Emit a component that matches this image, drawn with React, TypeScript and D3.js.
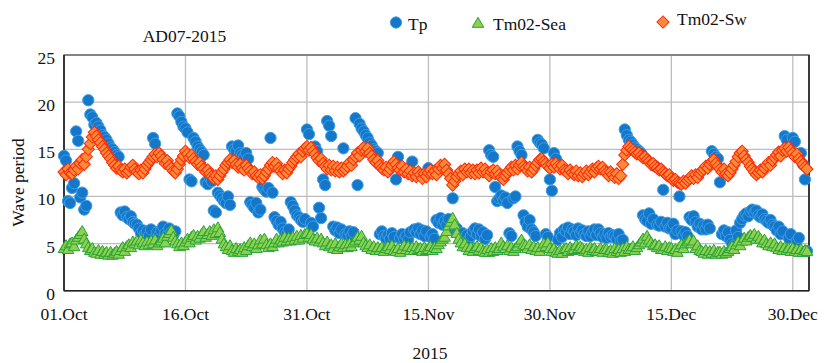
import React from "react";
import * as d3 from "d3";

// Series sampled every 6 h starting 01.Oct 2015 00:00 (UTC), 4 values per day
const startDate = new Date(Date.UTC(2015, 9, 1));
const endDate = new Date(Date.UTC(2016, 0, 1));
const stepHours = 6;

const tpValues = [
  14.3, 13.8, 9.5, 9.3, 10.9, 11.4, 16.9, 15.9, 9.9, 10.4, 8.6, 9.0, 20.2, 18.7, 18.4, 17.6,
  17.8, 17.4, 17.0, 16.5, 16.3, 16.0, 15.6, 15.2, 15.0, 14.7, 14.4, 14.2, 8.3, 8.0, 8.4, 7.8,
  7.6, 7.9, 7.3, 7.1, 7.0, 6.6, 6.1, 6.4, 6.0, 6.3, 5.8, 6.5, 16.2, 15.6, 6.2, 5.9,
  6.4, 6.8, 6.1, 5.9, 6.6, 6.2, 5.9, 6.3, 18.8, 18.5, 17.9, 17.4, 17.2, 16.8, 11.8, 11.6,
  16.2, 15.8, 15.3, 15.0, 14.7, 14.4, 11.5, 11.3, 12.0, 11.6, 8.5, 8.3, 10.4, 10.1, 9.8, 9.5,
  9.3, 10.0, 9.1, 15.3, 15.0, 14.8, 15.4, 14.6, 14.4, 14.2, 14.6, 14.0, 9.4, 9.1, 8.8, 9.3,
  8.3, 8.6, 11.0, 10.7, 10.5, 10.9, 16.2, 10.4, 7.8, 7.4, 7.0, 7.3, 6.6, 6.2, 6.0, 6.5,
  9.4, 9.0, 8.5, 8.0, 7.8, 7.5, 7.3, 7.6, 17.1, 16.6, 7.2, 6.8, 15.3, 14.8, 8.8, 7.7,
  11.8, 11.2, 18.0, 17.5, 16.4, 6.8, 6.4, 6.7, 6.1, 6.5, 15.1, 6.0, 5.9, 6.3, 5.8, 6.2,
  18.3, 11.2, 17.7, 17.2, 16.9, 16.5, 16.2, 15.7, 15.4, 15.0, 14.8, 14.6, 6.0, 6.3, 5.8, 5.6,
  5.9, 5.5, 6.1, 5.7, 11.8, 14.2, 5.6, 6.0, 5.5, 5.8, 5.4, 6.2, 13.7, 6.5, 6.2, 6.6,
  6.0, 6.4, 5.8, 6.3, 13.0, 5.7, 6.0, 5.5, 7.5, 7.2, 7.7, 7.0, 7.4, 7.0, 7.6, 6.8,
  9.8, 6.3, 6.6, 6.0, 5.7, 6.1, 5.5, 5.9, 5.4, 5.8, 6.3, 6.6, 6.0, 6.5, 5.8, 6.2,
  5.5, 5.9, 14.9, 14.4, 14.2, 11.0, 9.5, 9.8, 10.1, 9.6, 9.9, 9.3, 6.1, 5.8, 9.8, 10.0,
  15.3, 14.8, 14.4, 8.0, 7.3, 6.8, 7.5, 6.5, 6.2, 5.8, 16.0, 15.7, 15.5, 15.1, 6.0, 5.7,
  11.8, 10.6, 14.6, 14.0, 5.4, 6.1, 5.7, 6.5, 6.3, 6.7, 6.0, 6.5, 6.3, 5.9, 6.6, 6.1,
  6.4, 6.0, 5.8, 6.3, 5.8, 6.2, 6.5, 5.9, 6.5, 6.1, 5.7, 6.0, 5.6, 6.1, 5.7, 5.9,
  5.8, 5.5, 6.0, 5.3, 5.4, 17.1, 16.5, 16.0, 15.8, 15.5, 15.2, 15.0, 14.8, 14.6, 8.0, 7.6,
  7.4, 8.2, 7.1, 7.6, 13.2, 7.0, 6.9, 7.3, 10.7, 6.8, 7.2, 6.6, 6.6, 7.1, 6.0, 6.4,
  10.0, 6.3, 5.9, 6.2, 5.8, 7.8, 7.5, 7.9, 7.3, 6.8, 7.1, 6.5, 6.9, 6.5, 7.0, 6.6,
  14.8, 14.5, 14.2, 14.0, 11.5, 6.0, 6.4, 5.8, 6.2, 5.4, 5.0, 4.8, 6.4, 5.7, 7.2, 7.6,
  8.0, 8.2, 7.9, 8.4, 8.6, 8.3, 8.5, 8.0, 7.8, 8.1, 7.6, 7.4, 7.2, 7.5, 7.0, 6.8,
  6.4, 6.8, 6.0, 6.3, 16.4, 16.0, 5.6, 6.0, 16.2, 15.8, 5.3, 5.6, 14.6, 13.4, 11.8, 4.2,
];

const seaValues = [
  4.4, 4.7, 4.3, 4.9, 5.0, 4.6, 5.3, 5.6, 5.9, 6.2, 5.4, 4.9, 4.5, 4.2, 4.4, 4.0,
  3.9, 4.2, 3.8, 4.1, 3.8, 4.0, 3.7, 4.0, 3.7, 3.9, 4.1, 3.8, 4.2, 4.5, 4.1, 4.6,
  4.8, 4.5, 5.1, 4.9, 5.2, 4.8, 5.3, 5.0, 4.7, 5.1, 4.8, 5.2, 4.9, 5.3, 4.7, 5.0,
  5.2, 5.5, 5.0, 5.7, 6.0, 6.3, 5.6, 5.2, 4.9, 4.6, 5.0, 4.7, 5.1, 5.4, 5.0, 5.6,
  5.8, 5.3, 5.7, 5.5, 5.9, 6.2, 5.6, 5.9, 6.2, 5.8, 6.4, 6.0, 6.6, 6.1, 5.4, 4.9,
  4.6, 4.3, 4.7, 4.2, 4.0, 4.4, 4.1, 4.3, 4.0, 4.5, 4.2, 4.7, 5.0, 4.6, 4.9, 4.4,
  4.8, 5.3, 4.9, 5.4, 4.8, 4.5, 4.9, 4.6, 5.0, 5.4, 5.0, 5.3, 5.1, 5.6, 5.2, 5.5,
  5.2, 5.6, 5.3, 5.7, 5.3, 5.8, 5.5, 5.9, 6.0, 5.6, 5.9, 5.4, 5.2, 5.5, 5.1, 5.4,
  5.0, 4.7, 5.1, 4.6, 4.8, 4.4, 4.9, 4.3, 4.6, 4.9, 4.5, 4.8, 4.5, 4.9, 4.6, 5.0,
  5.2, 5.6, 5.3, 5.7, 5.0, 4.7, 4.5, 4.8, 4.3, 4.6, 4.2, 4.5, 4.2, 4.5, 4.1, 4.4,
  4.6, 4.3, 4.7, 4.2, 4.1, 4.4, 4.0, 4.3, 4.7, 4.3, 4.6, 4.2, 4.5, 4.2, 4.6, 4.3,
  4.4, 4.1, 4.5, 4.2, 4.3, 4.6, 4.2, 4.5, 4.4, 4.8, 5.1, 5.4, 5.6, 6.2, 6.8, 7.2,
  7.6, 6.9, 6.0, 5.4, 5.0, 4.6, 4.9, 4.5, 4.2, 4.5, 4.1, 4.4, 4.6, 4.2, 4.5, 4.1,
  4.0, 4.3, 4.0, 4.4, 4.1, 4.5, 4.2, 4.4, 5.0, 4.6, 4.4, 4.7, 4.2, 4.5, 4.1, 4.4,
  4.6, 5.0, 5.3, 4.8, 4.7, 4.4, 4.8, 4.3, 4.6, 4.2, 4.5, 4.1, 4.5, 4.9, 4.6, 5.0,
  4.4, 4.1, 4.4, 4.0, 3.9, 4.2, 3.9, 4.3, 4.4, 4.1, 4.5, 4.2, 4.3, 4.7, 4.4, 4.6,
  4.4, 4.1, 4.3, 4.0, 4.5, 4.2, 4.4, 4.1, 4.1, 4.4, 4.0, 4.3, 4.3, 4.0, 4.2, 3.9,
  4.4, 4.1, 4.3, 4.0, 4.4, 4.1, 4.6, 4.3, 4.3, 4.6, 4.2, 4.5, 4.8, 5.1, 5.4, 5.0,
  5.7, 5.3, 5.0, 4.7, 4.8, 4.5, 4.7, 4.3, 4.3, 4.6, 4.2, 4.5, 4.4, 4.1, 4.3, 4.0,
  4.5, 4.8, 4.4, 4.9, 5.1, 5.3, 4.9, 5.2, 4.4, 4.7, 4.2, 4.1, 3.9, 4.2, 3.8, 4.1,
  3.9, 4.2, 3.8, 4.0, 4.0, 3.8, 4.1, 3.9, 4.1, 4.4, 4.6, 4.3, 4.8, 5.1, 4.7, 5.2,
  5.5, 5.2, 5.6, 5.8, 5.6, 5.9, 5.4, 5.7, 5.4, 5.0, 5.3, 4.9, 4.7, 5.0, 4.6, 4.9,
  4.5, 4.3, 4.6, 4.2, 4.5, 4.2, 4.4, 4.1, 4.4, 4.1, 4.3, 4.0, 4.3, 4.0, 4.2, 4.1,
];

const swValues = [
  12.6, 12.3, 12.9, 12.5, 12.4, 12.8, 13.2, 12.9, 13.5, 13.9, 13.4, 14.2, 15.0, 15.6, 16.3, 16.8,
  16.4, 16.0, 15.7, 15.3, 15.0, 14.6, 14.3, 14.0, 13.6, 13.3, 13.0, 13.2, 12.8, 12.6, 12.9, 12.5,
  12.7, 13.1, 13.3, 12.9, 12.6, 12.4, 12.8, 12.5, 12.9, 13.3, 13.6, 13.9, 14.2, 14.5, 14.2, 14.6,
  14.3, 13.9, 13.5, 13.8, 13.3, 13.0, 12.7, 12.5, 12.9, 13.4, 13.9, 14.3, 14.8, 14.5, 14.1, 14.4,
  14.0, 13.7, 13.4, 13.6, 13.2, 12.9, 12.6, 12.8, 12.4, 12.1, 11.9, 12.2, 11.8, 12.2, 12.6, 12.9,
  13.3, 13.6, 13.9, 13.6, 13.8, 13.4, 13.1, 13.4, 13.0, 12.8, 13.3, 13.0, 12.7, 12.4, 12.6, 12.2,
  12.0, 12.3, 11.9, 12.2, 12.6, 12.9, 13.3, 13.6, 13.2, 13.5, 13.0, 12.7, 12.4, 12.8, 12.5, 12.9,
  13.2, 13.6, 13.9, 14.2, 14.5, 14.2, 14.8, 15.1, 15.3, 14.9, 15.2, 14.8, 14.5, 14.1, 13.8, 14.0,
  13.5, 13.2, 12.9, 13.3, 12.8, 13.2, 12.7, 13.1, 12.6, 13.0, 12.7, 12.9, 13.2, 13.6, 13.3, 13.9,
  14.2, 14.6, 14.3, 14.9, 15.2, 14.8, 15.1, 14.6, 14.3, 13.9, 13.6, 13.8, 13.3, 13.0, 12.8, 13.1,
  12.6, 12.9, 13.3, 13.7, 13.4, 13.0, 12.8, 13.2, 12.6, 12.9, 12.4, 12.7, 12.2, 12.5, 12.1, 12.6,
  12.3, 11.9, 12.4, 12.1, 12.5, 12.8, 12.4, 12.7, 12.3, 12.9, 13.3, 13.0, 13.4, 12.8, 12.4, 11.9,
  11.2, 11.6, 12.1, 12.4, 12.7, 12.3, 12.9, 12.6, 12.9, 12.5, 12.8, 12.4, 12.8, 12.5, 13.0, 12.6,
  12.9, 12.5, 12.2, 12.6, 12.8, 12.4, 12.7, 12.3, 12.0, 11.8, 12.2, 12.5, 12.8, 13.1, 12.8, 13.3,
  12.9, 13.3, 13.6, 13.2, 13.0, 12.7, 13.1, 12.6, 12.9, 13.3, 13.6, 13.9, 14.0, 13.7, 13.5, 13.2,
  13.0, 13.4, 13.1, 13.5, 13.2, 12.9, 13.3, 12.8, 12.7, 12.4, 12.8, 12.5, 12.3, 12.7, 12.2, 12.5,
  12.1, 12.4, 12.7, 12.3, 12.6, 12.9, 12.6, 13.0, 13.2, 12.9, 13.1, 12.7, 12.5, 12.2, 12.6, 12.3,
  12.0, 12.4, 11.9, 12.2, 13.4, 14.4, 14.9, 15.3, 15.1, 14.9, 14.7, 14.5, 14.6, 14.3, 14.1, 14.2,
  13.9, 13.7, 13.4, 13.5, 13.2, 13.0, 12.8, 12.9, 12.6, 12.4, 12.2, 12.3, 11.9, 11.7, 11.8, 11.5,
  11.4, 11.3, 11.6, 11.4, 11.7, 11.9, 12.2, 11.9, 12.3, 12.0, 12.4, 12.7, 12.9, 13.2, 13.0, 13.4,
  13.7, 13.9, 13.5, 13.2, 12.9, 12.6, 12.9, 12.4, 12.2, 12.5, 12.9, 13.3, 13.7, 14.2, 14.6, 14.8,
  14.3, 13.9, 13.6, 13.2, 12.9, 12.6, 12.3, 12.5, 12.8, 12.6, 13.0, 13.3, 13.6, 13.3, 13.8, 14.1,
  14.4, 14.7, 14.3, 14.9, 15.1, 14.8, 15.2, 14.9, 14.6, 14.2, 14.5, 14.0, 13.7, 13.4, 13.1, 12.9,
];

const yTicks = [0, 5, 10, 15, 20, 25];
const xTickDates = [
  new Date(Date.UTC(2015, 9, 1)),
  new Date(Date.UTC(2015, 9, 16)),
  new Date(Date.UTC(2015, 9, 31)),
  new Date(Date.UTC(2015, 10, 15)),
  new Date(Date.UTC(2015, 10, 30)),
  new Date(Date.UTC(2015, 11, 15)),
  new Date(Date.UTC(2015, 11, 30)),
];
const xTickLabels = ["01.Oct", "16.Oct", "31.Oct", "15.Nov", "30.Nov", "15.Dec", "30.Dec"];

const seriesNames = ["Tp", "Tm02-Sea", "Tm02-Sw"];

const W = 831;
const H = 363;
const plot = { left: 64, right: 809, top: 55, bottom: 290.7 };
const FONT = "'Liberation Serif', 'Times New Roman', serif";

const colors = {
  tp: { fill: "#1577c9", stroke: "#3a9fe6" },
  sea: { fill: "#8fd14f", stroke: "#27a33a" },
  sw: { fill: "#f68b3a", stroke: "#ff2a0a" },
};

function timeAt(i: number) {
  return new Date(startDate.getTime() + i * stepHours * 3600 * 1000);
}

export default function App() {
  const x = d3.scaleUtc().domain([startDate, endDate]).range([plot.left, plot.right]);
  const y = d3.scaleLinear().domain([0, 25]).range([plot.bottom, plot.top]);

  const circlePath = d3.symbol(d3.symbolCircle, 100)()!;
  const triPath = d3.symbol(d3.symbolTriangle, 58)()!;
  const diamondPath = d3.symbol(d3.symbolSquare, 74)()!;

  const marker = (kind: string, cx: number, cy: number, key: string | number) => {
    if (kind === "tp")
      return (
        <path key={key} d={circlePath} transform={`translate(${cx},${cy})`} fill={colors.tp.fill} stroke={colors.tp.stroke} strokeWidth={1} />
      );
    if (kind === "sea")
      return (
        <path key={key} d={triPath} transform={`translate(${cx},${cy})`} fill={colors.sea.fill} stroke={colors.sea.stroke} strokeWidth={1} />
      );
    return (
      <path key={key} d={diamondPath} transform={`translate(${cx},${cy}) rotate(45)`} fill={colors.sw.fill} stroke={colors.sw.stroke} strokeWidth={1} />
    );
  };

  return (
    <svg width={W} height={H} style={{ position: "absolute", left: 0, top: 0, background: "#fff" }} fontFamily={FONT}>
      <rect x={0} y={0} width={W} height={H} fill="#fff" />
      {/* grid */}
      {yTicks.map((t) => (
        <line key={"gy" + t} x1={plot.left} x2={plot.right} y1={y(t)} y2={y(t)} stroke="#bdbdbd" strokeWidth={1.3} />
      ))}
      {xTickDates.map((d, i) => (
        <line key={"gx" + i} x1={x(d)} x2={x(d)} y1={plot.top} y2={plot.bottom} stroke="#bdbdbd" strokeWidth={1.3} />
      ))}
      {/* frame */}
      <rect x={plot.left} y={plot.top} width={plot.right - plot.left} height={plot.bottom - plot.top} fill="none" stroke="#555" strokeWidth={1.2} />
      <line x1={plot.left} x2={plot.left} y1={plot.top} y2={plot.bottom} stroke="#222" strokeWidth={1.6} />
      <line x1={plot.left} x2={plot.right} y1={plot.bottom} y2={plot.bottom} stroke="#222" strokeWidth={1.6} />
      <line x1={plot.right} x2={plot.right} y1={plot.top} y2={plot.bottom} stroke="#222" strokeWidth={1.6} />

      {/* series */}
      <g>{tpValues.map((v, i) => marker("tp", x(timeAt(i)), y(v), "tp" + i))}</g>
      <g>{seaValues.map((v, i) => marker("sea", x(timeAt(i)), y(v), "se" + i))}</g>
      <g>{swValues.map((v, i) => marker("sw", x(timeAt(i)), y(v), "sw" + i))}</g>

      {/* y tick labels */}
      {yTicks.map((t) => (
        <text key={"ty" + t} x={55} y={y(t) + 9} textAnchor="end" fontSize={17.5} fill="#111">
          {t}
        </text>
      ))}
      {/* x tick labels */}
      {xTickDates.map((d, i) => (
        <text key={"tx" + i} x={x(d)} y={320} textAnchor="middle" fontSize={17.5} fill="#111">
          {xTickLabels[i]}
        </text>
      ))}

      {/* axis titles */}
      <text x={430} y={359} textAnchor="middle" fontSize={17.5} fill="#111">2015</text>
      <text transform={`translate(24,${182.5}) rotate(-90)`} textAnchor="middle" fontSize={17.5} fill="#111">
        Wave period
      </text>
      <text x={184.5} y={42} textAnchor="middle" fontSize={17.5} fill="#111">AD07-2015</text>

      {/* legend */}
      {marker("tp", 396, 22.5, "lg0")}
      <text x={408} y={30} fontSize={17.5} fill="#111">{seriesNames[0]}</text>
      {marker("sea", 478, 24, "lg1")}
      <text x={493} y={30} fontSize={17.5} fill="#111">{seriesNames[1]}</text>
      {marker("sw", 663, 22, "lg2")}
      <text x={677} y={25} fontSize={17.5} fill="#111">{seriesNames[2]}</text>
    </svg>
  );
}
